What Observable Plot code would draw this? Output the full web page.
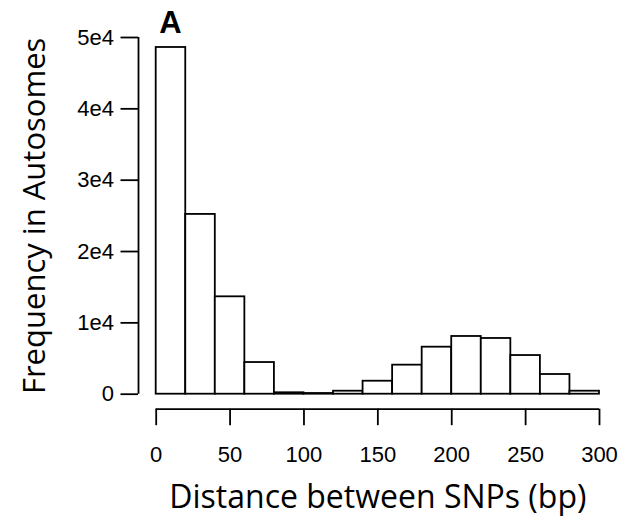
<!DOCTYPE html>
<html><head><meta charset="utf-8">
<script src="https://cdn.jsdelivr.net/npm/d3@7"></script>
<script src="https://cdn.jsdelivr.net/npm/@observablehq/plot@0.6"></script>
<style>body{margin:0;background:#fff}</style>
</head><body><div id="chart"></div>
<script>
const binStart = [0,20,40,60,80,100,120,140,160,180,200,220,240,260,280];
const binEnd   = [20,40,60,80,100,120,140,160,180,200,220,240,260,280,300];
const counts   = [48600,25200,13650,4440,200,100,420,1820,4070,6590,8090,7810,5420,2760,420];
const xTicks = [0,50,100,150,200,250,300];
const yTicks = [0,10000,20000,30000,40000,50000];
const yTickLabels = ["0","1e4","2e4","3e4","4e4","5e4"];
const xTitle = "Distance between SNPs (bp)";
const yTitle = "Frequency in Autosomes";
const panelLabel = "A";

const bins = binStart.map((s,i)=>({x1:s,x2:binEnd[i],y:counts[i]}));
const chart = Plot.plot({
  width:623, height:529,
  marginLeft:155.7, marginRight:24, marginTop:37, marginBottom:135.3,
  style:{background:"#fff", fontFamily:"'Liberation Sans', Arial, sans-serif", fontSize:"22px", color:"#000"},
  x:{domain:[0,300]},
  y:{domain:[0,50000]},
  marks:[
    Plot.rectY(bins,{x1:"x1",x2:"x2",y:"y",fill:"#fff",stroke:"#000",strokeWidth:1.8}),
    Plot.ruleX([0],{y1:0,y2:50000,dx:-17.7,stroke:"#000",strokeWidth:1.8}),
    Plot.axisY({ticks:yTicks, tickFormat:d=>yTickLabels[yTicks.indexOf(d)], tickSize:17.5, dx:-17.7, tickPadding:7, label:null, fontSize:22, strokeWidth:1.8}),
    Plot.ruleY([0],{x1:0,x2:300,dy:15,stroke:"#000",strokeWidth:1.8}),
    Plot.axisX({ticks:xTicks, tickFormat:d=>String(d), tickSize:16.5, dy:15, tickPadding:21, label:null, fontSize:22, strokeWidth:1.8}),
    Plot.text([xTitle],{text:d=>d, frameAnchor:"bottom", textAnchor:"middle", lineAnchor:"middle", dy:104, fontFamily:"'Open Sans', sans-serif", fontSize:32}),
    Plot.text([yTitle],{text:d=>d, frameAnchor:"left", textAnchor:"middle", lineAnchor:"middle", dx:-120.7, rotate:-90, fontFamily:"'Open Sans', sans-serif", fontSize:31}),
    Plot.text([panelLabel],{text:d=>d, frameAnchor:"top-left", textAnchor:"middle", lineAnchor:"middle", dx:14.3, dy:-14.5, fontWeight:"bold", fontSize:31})
  ]
});
document.getElementById("chart").appendChild(chart);
</script>
</body></html>
